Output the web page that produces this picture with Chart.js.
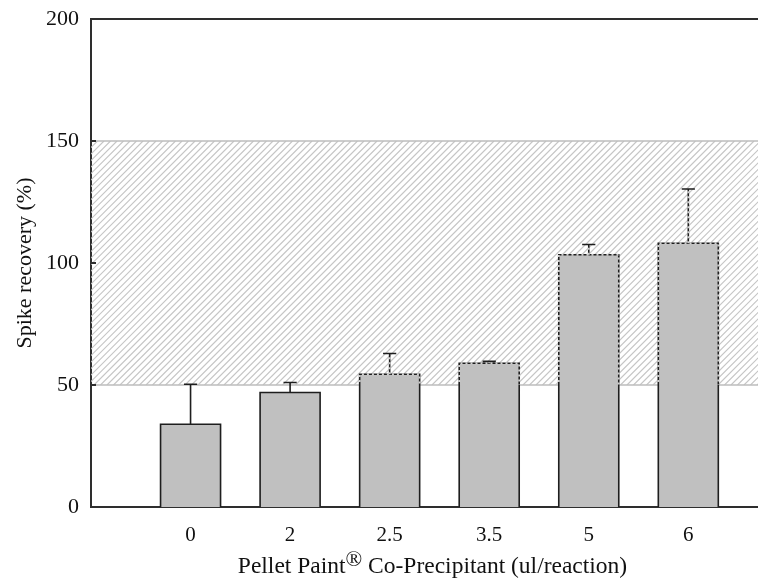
<!DOCTYPE html>
<html>
<head>
<meta charset="utf-8">
<script src="https://cdn.jsdelivr.net/npm/chart.js@4"></script>
<style>
  html, body { margin: 0; padding: 0; background: #fff; }
  #wrap { width: 758px; height: 583px; position: relative; }
</style>
</head>
<body>
<div id="wrap"><canvas id="recoveryChart"></canvas></div>
<script>
const categories = ["0", "2", "2.5", "3.5", "5", "6"];
const recovery = [33.9, 46.9, 54.4, 58.9, 103.4, 108.1];
const errorUpper = [16.4, 4.1, 8.5, 0.8, 4.2, 22.2];
const yTickValues = [0, 50, 100, 150, 200];
const acceptLow = 50;
const acceptHigh = 150;
const xTitle = ["Pellet Paint", "\u00AE", " Co-Precipitant (ul/reaction)"];
const yTitle = "Spike recovery (%)";

const serif = "'Liberation Serif', 'Times New Roman', serif";
const axisColor = "#2e2e2e";

// hatched acceptance band, drawn under the bars
const bandPlugin = {
  id: "band",
  beforeDatasetsDraw(chart) {
    const { ctx, chartArea } = chart;
    const y = chart.scales.y;
    const top = y.getPixelForValue(acceptHigh);
    const bottom = y.getPixelForValue(acceptLow);
    const h = bottom - top;
    ctx.save();
    ctx.beginPath();
    ctx.rect(chartArea.left, top, chartArea.right - chartArea.left, h);
    ctx.clip();
    ctx.strokeStyle = "#c6c6c6";
    ctx.lineWidth = 1.2;
    ctx.beginPath();
    for (let k = chartArea.left - h; k < chartArea.right + 6; k += 6.5) {
      ctx.moveTo(k, bottom);
      ctx.lineTo(k + h, top);
    }
    ctx.stroke();
    ctx.restore();

    ctx.save();
    ctx.strokeStyle = "#bdbdbd";
    ctx.lineWidth = 1.5;
    ctx.beginPath();
    ctx.moveTo(chartArea.left, top);
    ctx.lineTo(chartArea.right, top);
    ctx.moveTo(chartArea.left, bottom);
    ctx.lineTo(chartArea.right, bottom);
    ctx.stroke();
    ctx.restore();
  },
  afterDatasetsDraw(chart) {
    const { ctx, chartArea } = chart;
    const y = chart.scales.y;
    const bars = chart.getDatasetMeta(0).data;

    const outline = (withCap) => (bar, i) => {
      const half = bar.width / 2;
      const capTop = y.getPixelForValue(recovery[i] + errorUpper[i]);
      const cap = bar.width * 0.11;
      ctx.moveTo(bar.x - half, bar.base);
      ctx.lineTo(bar.x - half, bar.y);
      ctx.lineTo(bar.x + half, bar.y);
      ctx.lineTo(bar.x + half, bar.base);
      ctx.moveTo(bar.x, bar.y);
      ctx.lineTo(bar.x, capTop + (withCap ? 0 : 1));
      if (withCap) {
        ctx.moveTo(bar.x - cap, capTop);
        ctx.lineTo(bar.x + cap, capTop);
      }
    };

    ctx.save();
    ctx.strokeStyle = "#1e1e1e";
    ctx.lineWidth = 1.6;
    ctx.beginPath();
    bars.forEach(outline(true));
    ctx.stroke();

    // lines inside the band look dashed in the original
    const top = y.getPixelForValue(acceptHigh);
    const bottom = y.getPixelForValue(acceptLow);
    ctx.beginPath();
    ctx.rect(chartArea.left, top, chartArea.right - chartArea.left, bottom - top);
    ctx.clip();
    ctx.strokeStyle = "#cfcfcf";
    ctx.lineWidth = 2;
    ctx.setLineDash([2, 3]);
    ctx.beginPath();
    bars.forEach(outline(false));
    ctx.stroke();
    ctx.restore();
  },
  afterDraw(chart) {
    const { ctx, chartArea } = chart;
    const y = chart.scales.y;
    ctx.save();
    // top frame line
    ctx.strokeStyle = axisColor;
    ctx.lineWidth = 2;
    ctx.beginPath();
    ctx.moveTo(chartArea.left, chartArea.top);
    ctx.lineTo(chartArea.right, chartArea.top);
    // inward ticks on the y axis
    yTickValues.forEach(v => {
      const py = y.getPixelForValue(v);
      ctx.moveTo(chartArea.left, py);
      ctx.lineTo(chartArea.left + 5, py);
    });
    ctx.stroke();

    // x axis title with superscript mark
    const big = "23.5px " + serif;
    const sup = "22px " + serif;
    ctx.fillStyle = "#111";
    ctx.textBaseline = "alphabetic";
    ctx.font = big;
    const w0 = ctx.measureText(xTitle[0]).width;
    const w2 = ctx.measureText(xTitle[2]).width;
    ctx.font = sup;
    const w1 = ctx.measureText(xTitle[1]).width;
    const total = w0 + w1 + w2;
    let x = (chartArea.left + chartArea.right) / 2 + 8 - total / 2;
    const base = chart.height - 10;
    ctx.font = big;
    ctx.fillText(xTitle[0], x, base);
    x += w0;
    ctx.font = sup;
    ctx.fillText(xTitle[1], x, base - 7);
    x += w1;
    ctx.font = big;
    ctx.fillText(xTitle[2], x, base);
    ctx.restore();
  }
};

const ctx = document.getElementById("recoveryChart").getContext("2d");

new Chart(ctx, {
  type: "bar",
  data: {
    datasets: [
      {
        data: recovery.map((v, i) => ({ x: i + 1, y: v })),
        backgroundColor: "#c0c0c0",
        borderWidth: 0,
        barThickness: 60
      }
    ]
  },
  options: {
    responsive: true,
    maintainAspectRatio: false,
    animation: false,
    layout: {
      padding: { top: 19, right: 0, bottom: 0, left: 0 }
    },
    plugins: {
      legend: { display: false },
      tooltip: { enabled: false }
    },
    scales: {
      x: {
        type: "linear",
        offset: false,
        min: 0,
        max: 6.7,
        afterBuildTicks(scale) {
          scale.ticks = categories.map((c, i) => ({ value: i + 1 }));
        },
        afterFit(scale) {
          scale.height = 76;
          scale.paddingLeft = 0;
          scale.paddingRight = 0;
        },
        ticks: {
          autoSkip: false,
          maxRotation: 0,
          padding: 8,
          color: "#111",
          font: { family: serif, size: 21 },
          callback: function(value) {
            return categories[value - 1];
          }
        },
        grid: { display: false, offset: false },
        border: { display: true, color: axisColor, width: 2 }
      },
      y: {
        min: 0,
        max: 200,
        afterBuildTicks(scale) {
          scale.ticks = yTickValues.map(v => ({ value: v }));
        },
        afterFit(scale) {
          scale.width = 91;
          scale.paddingTop = 0;
          scale.paddingBottom = 0;
        },
        ticks: {
          padding: 4,
          color: "#111",
          font: { family: serif, size: 22 }
        },
        grid: { display: false },
        border: { display: true, color: axisColor, width: 2 },
        title: {
          display: true,
          text: yTitle,
          color: "#111",
          font: { family: serif, size: 22 },
          padding: { top: 12, bottom: 0 }
        }
      }
    }
  },
  plugins: [bandPlugin]
});
</script>
</body>
</html>
